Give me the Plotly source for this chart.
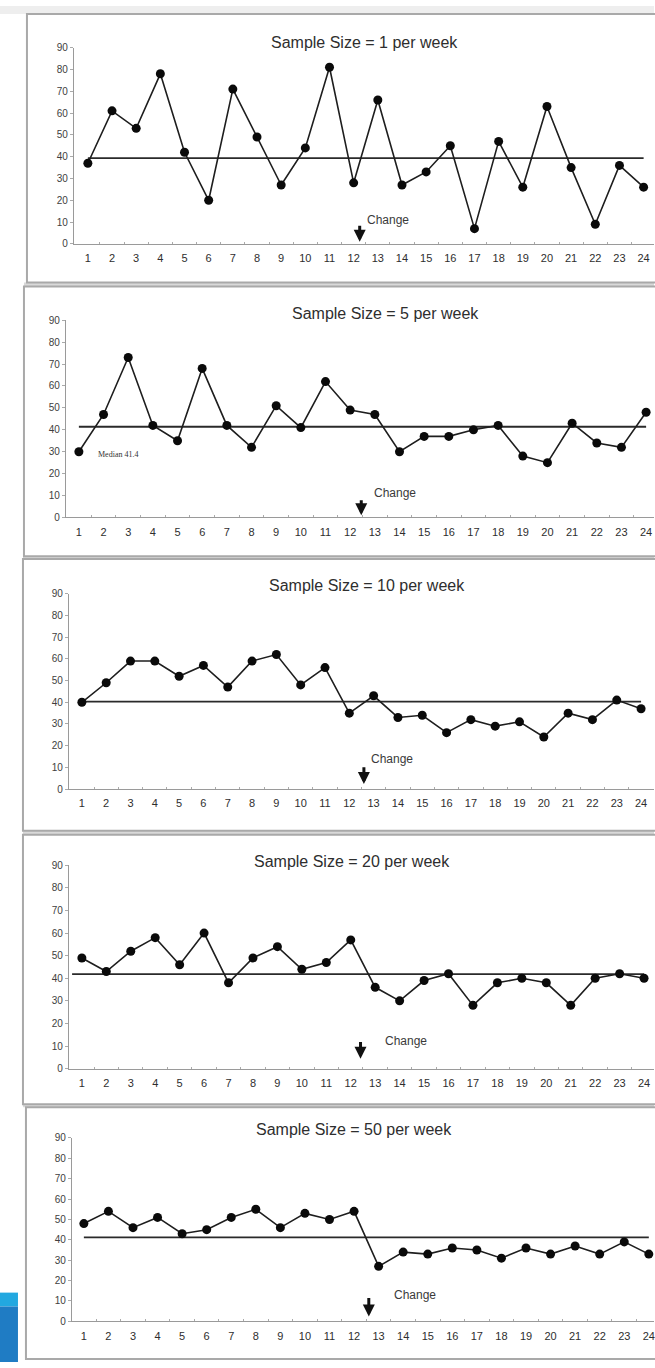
import plotly.graph_objects as go

W, H = 655, 1368

weeks = list(range(1, 25))
titles = [
    "Sample Size = 1 per week",
    "Sample Size = 5 per week",
    "Sample Size = 10 per week",
    "Sample Size = 20 per week",
    "Sample Size = 50 per week",
]
size1 = [37, 61, 53, 78, 42, 20, 71, 49, 27, 44, 81, 28, 66, 27, 33, 45, 7, 47, 26, 63, 35, 9, 36, 26]
size5 = [30, 47, 73, 42, 35, 68, 42, 32, 51, 41, 62, 49, 47, 30, 37, 37, 40, 42, 28, 25, 43, 34, 32, 48]
size10 = [40, 49, 59, 59, 52, 57, 47, 59, 62, 48, 56, 35, 43, 33, 34, 26, 32, 29, 31, 24, 35, 32, 41, 37]
size20 = [49, 43, 52, 58, 46, 60, 38, 49, 54, 44, 47, 57, 36, 30, 39, 42, 28, 38, 40, 38, 28, 40, 42, 40]
size50 = [48, 54, 46, 51, 43, 45, 51, 55, 46, 53, 50, 54, 27, 34, 33, 36, 35, 31, 36, 33, 37, 33, 39, 33]
series = [size1, size5, size10, size20, size50]
medians = [39.3, 41.4, 40.3, 41.8, 41.2]
median_start = [1, 1, 1, 0.6, 1]
change_label = "Change"
median_label = "Median 41.4"
y_ticks = list(range(0, 100, 10))

# geometry (pixels) per panel
geo = [
    dict(frame=(27, 8, 279), ax=74, x1=88, u=24.2, y0=240, y90=42, title=(365, 37),
         arrow=(12.25, 9, 1), chg=(12.45, 11)),
    dict(frame=(24, 283, 555), ax=66, x1=79, u=24.7, y0=516, y90=317, title=(386, 310),
         arrow=(12.45, 8.6, 1), chg=(12.9, 11)),
    dict(frame=(23, 558, 832), ax=69, x1=82, u=24.35, y0=790, y90=593, title=(368, 585),
         arrow=(12.6, 10.7, 2.3), chg=(12.8, 14)),
    dict(frame=(23, 836, 1108), ax=69, x1=82, u=24.48, y0=1072, y90=867, title=(353, 863),
         arrow=(12.4, 12.4, 4.4), chg=(13.3, 12.4)),
    dict(frame=(26, 1111, 1365), ax=72, x1=84, u=24.6, y0=1327, y90=1142, title=(355, 1133),
         arrow=(12.6, 12.2, 2.4), chg=(13.55, 13)),
]

fig = go.Figure()
shapes = []
annotations = []

def px(x):
    return x / W

def py(y):
    return 1 - y / H

# top band and gaps
shapes.append(dict(type="rect", xref="paper", yref="paper", x0=0, x1=1, y0=py(8), y1=1,
                   fillcolor="#eeeeee", line=dict(width=0), layer="below"))
for i, g in enumerate(geo):
    fx, ft, fb = g["frame"]
    if i < len(geo) - 1:
        nt = geo[i + 1]["frame"][1]
        shapes.append(dict(type="rect", xref="paper", yref="paper", x0=px(min(fx, geo[i + 1]["frame"][0])), x1=1,
                           y0=py(nt), y1=py(fb), fillcolor="#d9d9d9", line=dict(width=0), layer="below"))
    shapes.append(dict(type="rect", xref="paper", yref="paper", x0=px(fx), x1=px(W + 5),
                       y0=py(fb), y1=py(ft), fillcolor="white",
                       line=dict(color="#a9a9a9", width=2), layer="below"))

# blue corner element
shapes.append(dict(type="rect", xref="paper", yref="paper", x0=0, x1=px(18), y0=py(1312), y1=py(1298),
                   fillcolor="#22a8e0", line=dict(width=0)))
shapes.append(dict(type="rect", xref="paper", yref="paper", x0=0, x1=px(18), y0=0, y1=py(1312),
                   fillcolor="#1f7cc4", line=dict(width=0)))

layout_axes = {}
for i, (g, vals) in enumerate(zip(geo, series)):
    n = "" if i == 0 else str(i + 1)
    xa, ya = "x" + n, "y" + n
    xr = [1 - (g["x1"] - g["ax"]) / g["u"], 1 + (W - g["x1"]) / g["u"]]
    layout_axes["xaxis" + n] = dict(
        domain=[px(g["ax"]), 1], range=xr, anchor=ya,
        tickmode="array", tickvals=weeks, ticktext=[str(w) for w in weeks],
        showline=True, linecolor="#9a9a9a", linewidth=1,
        ticks="", showgrid=False, zeroline=False,
        tickfont=dict(family="Liberation Sans, Arial", size=11, color="#2e2e2e"),
        ticklabelstandoff=4, ticklabeloverflow="allow",
        minor=dict(tickmode="array", tickvals=[w + 0.5 for w in weeks[:-1]],
                   ticks="inside", ticklen=2, tickcolor="#aaaaaa", showgrid=False),
    )
    layout_axes["yaxis" + n] = dict(
        domain=[py(g["y0"]), py(g["y90"])], range=[0, 90], anchor=xa,
        tickmode="array", tickvals=y_ticks, ticktext=[str(t) for t in y_ticks],
        showline=True, linecolor="#9a9a9a", linewidth=1,
        ticks="outside", ticklen=3, tickcolor="#aaaaaa",
        showgrid=False, zeroline=False,
        tickfont=dict(family="Liberation Sans, Arial", size=10, color="#3e3e3e"),
    )
    fig.add_trace(go.Scatter(
        x=[median_start[i], 24], y=[medians[i], medians[i]], mode="lines",
        line=dict(color="#2a2a2a", width=1.8), xaxis=xa, yaxis=ya, showlegend=False,
        hoverinfo="skip"))
    fig.add_trace(go.Scatter(
        x=weeks, y=vals, mode="lines+markers",
        line=dict(color="#1e1e1e", width=1.6),
        marker=dict(color="#0a0a0a", size=9),
        xaxis=xa, yaxis=ya, showlegend=False))

    tx, ty = g["title"]
    annotations.append(dict(text=titles[i], xref="paper", yref="paper", x=px(tx), y=py(ty),
                            xanchor="center", yanchor="middle", showarrow=False,
                            font=dict(family="Liberation Sans, Arial", size=16, color="#2e2e2e")))
    axx, ayt, ayh = g["arrow"]
    annotations.append(dict(text="", x=axx, y=ayh, ax=axx, ay=ayt, xref=xa, yref=ya,
                            axref=xa, ayref=ya, showarrow=True, arrowhead=2, arrowsize=0.8,
                            arrowwidth=3, arrowcolor="#111111"))
    cx, cy = g["chg"]
    annotations.append(dict(text=change_label, x=cx, y=cy, xref=xa, yref=ya, xanchor="left",
                            yanchor="middle", showarrow=False,
                            font=dict(family="Liberation Sans, Arial", size=12, color="#3a3a3a")))
    if i == 1:
        annotations.append(dict(text=median_label, x=1.7, y=28.6, xref=xa, yref=ya, xanchor="left",
                                yanchor="middle", showarrow=False,
                                font=dict(family="Liberation Serif, Times New Roman", size=8, color="#333333")))

fig.update_layout(
    width=W, height=H, margin=dict(l=0, r=0, t=0, b=0),
    paper_bgcolor="white", plot_bgcolor="rgba(0,0,0,0)",
    shapes=shapes, annotations=annotations, showlegend=False,
    **layout_axes,
)

fig.write_html("out.html", config={"displayModeBar": False},
               post_script="document.body.style.margin='0';document.body.style.padding='0';")
